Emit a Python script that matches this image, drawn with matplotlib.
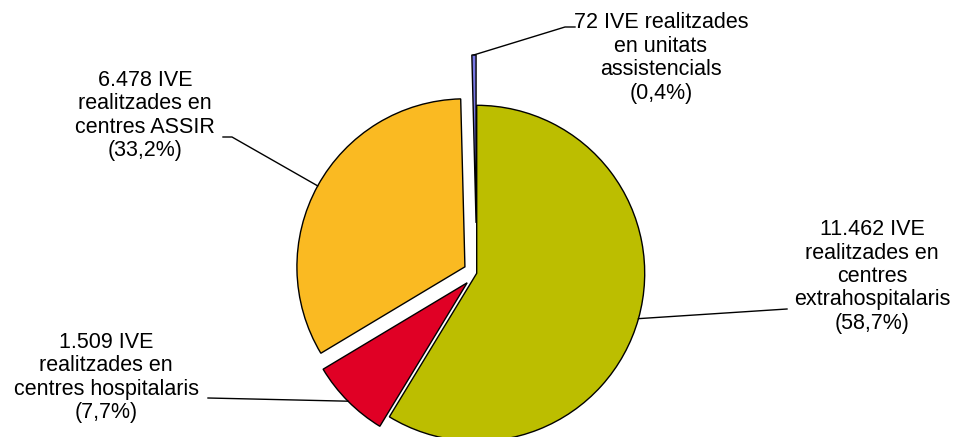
import numpy as np
import matplotlib.pyplot as plt

plt.rcParams['font.family'] = ['Liberation Sans', 'DejaVu Sans']

# data
categories = ['centres extrahospitalaris', 'centres hospitalaris',
              'centres ASSIR', 'unitats assistencials']
counts = [11462, 1509, 6478, 72]
percents = [58.7, 7.7, 33.2, 0.4]
labels = ['11.462 IVE\nrealitzades en\ncentres\nextrahospitalaris\n(58,7%)',
          '1.509 IVE\nrealitzades en\ncentres hospitalaris\n(7,7%)',
          '6.478 IVE\nrealitzades en\ncentres ASSIR\n(33,2%)',
          '72 IVE realitzades\nen unitats\nassistencials\n(0,4%)']
colors = ['#BCBE00', '#E00025', '#FABA22', '#7878E4']
explode = [0, 0.08, 0.08, 0.3]   # fraction of radius

W, H = 957, 437
R = 168
fig = plt.figure(figsize=(W / 100, H / 100), dpi=100)
ax = fig.add_axes([0, 0, 1, 1])

# explode in pie is in data units, so scale by radius
wedges, _ = ax.pie(percents, colors=colors, explode=[e * R for e in explode],
                   startangle=90, counterclock=False,
                   center=(476.7, H - 273.3), radius=R,
                   wedgeprops=dict(edgecolor='black', linewidth=1.0),
                   frame=True)
ax.set_xlim(0, W)
ax.set_ylim(0, H)
ax.axis('off')

# label positions (image coords: text center, elbow point, line end)
text_pos = [(872, 276.5), (106, 377.5), (145, 115.5), (661, 58)]
elbows = [None, None, (232, 137), (565, 27)]
ends = [(787, 309), (208, 398), (223, 137), (575, 27)]

for w, lab, tp, el, en in zip(wedges, labels, text_pos, elbows, ends):
    mid = np.deg2rad((w.theta1 + w.theta2) / 2)
    cx, cy = w.center
    xs = [cx + w.r * np.cos(mid)]
    ys = [cy + w.r * np.sin(mid)]
    if el is not None:
        xs.append(el[0])
        ys.append(H - el[1])
    xs.append(en[0])
    ys.append(H - en[1])
    ax.plot(xs, ys, color='black', linewidth=1.0)
    ax.text(tp[0], H - tp[1], lab, ha='center', va='center',
            multialignment='center', fontsize=15.5, linespacing=1.15,
            color='black')

fig.savefig('out.png', dpi=100)
